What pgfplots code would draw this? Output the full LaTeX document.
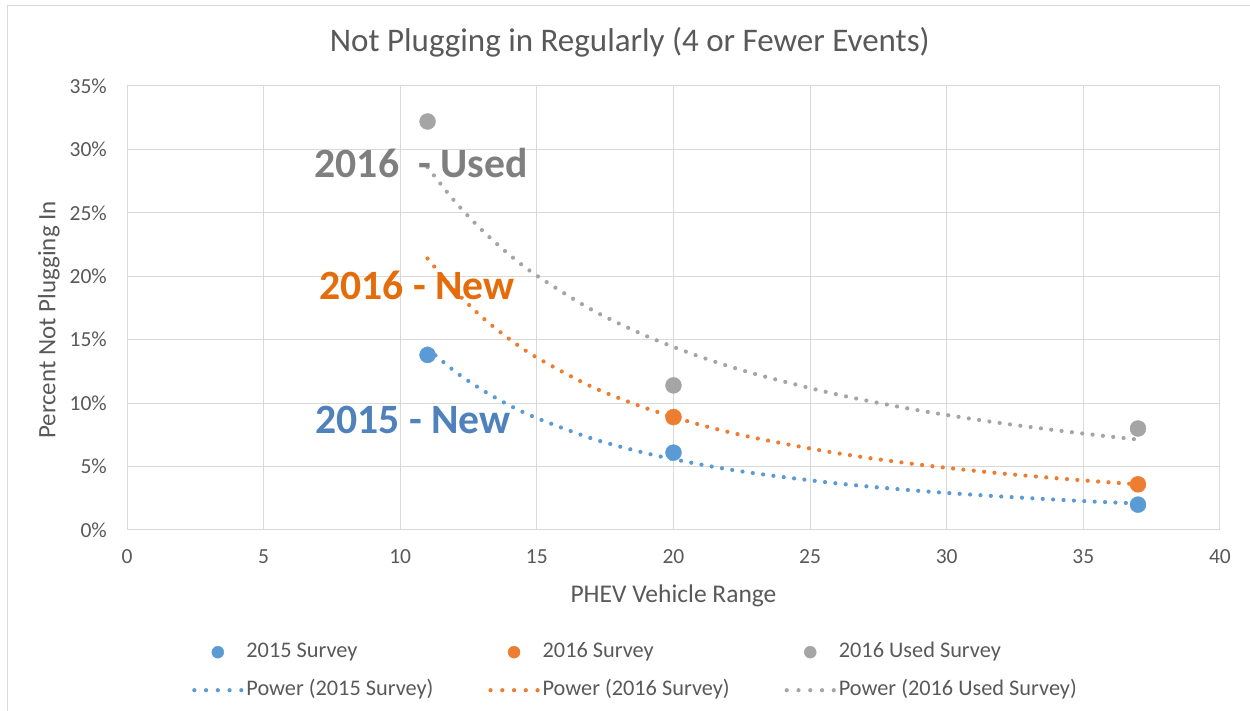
\documentclass[border=0pt]{standalone}
\usepackage{pgfplots}
\pgfplotsset{compat=1.18}
\usepackage{fontspec}
\setmainfont{Carlito}
\definecolor{cblue}{HTML}{5B9BD5}
\definecolor{corange}{HTML}{ED7D31}
\definecolor{cgray}{HTML}{A5A5A5}
\definecolor{txt}{HTML}{595959}
\definecolor{gridc}{HTML}{D9D9D9}
\definecolor{tblue}{HTML}{4F81BD}
\definecolor{torange}{HTML}{E46C0A}
\definecolor{tgray}{HTML}{7F7F7F}
\tikzset{trend/.style={line width=4.2pt, line cap=round, dash pattern=on 0pt off 10.4pt}}
\begin{document}
\begin{tikzpicture}[x=1pt,y=1pt]
\useasboundingbox (0,0) rectangle (1250,711);
\draw[gridc, line width=1.2pt] (7.5,-5) -- (7.5,705.5) -- (1260,705.5);
\begin{axis}[
  at={(127pt,181pt)}, anchor=south west,
  scale only axis, width=1093pt, height=444pt,
  xmin=0, xmax=40, ymin=0, ymax=35,
  xtick={0,5,...,40}, ytick={0,5,...,35},
  grid=major, major grid style={gridc, line width=1pt},
  axis line style={gridc, line width=1pt},
  major tick length=0pt,
  tick label style={font=\fontsize{21.5}{24}\selectfont, color=txt},
  /pgf/number format/assume math mode=true,
  yticklabel={\pgfmathprintnumber{\tick}\%},
  yticklabel style={anchor=east, inner sep=0pt, xshift=-20pt},
  xticklabel style={anchor=center, inner sep=0pt, yshift=-27pt},
  xlabel={PHEV Vehicle Range},
  xlabel style={at={(axis description cs:0.5,-0.1475)}, anchor=center, font=\fontsize{25.5}{28}\selectfont, color=txt},
  ylabel={Percent Not Plugging In},
  ylabel style={at={(axis description cs:-0.0715,0.473)}, anchor=center, font=\fontsize{25}{28}\selectfont, color=txt},
  title={Not Plugging in Regularly (4 or Fewer Events)},
  title style={at={(axis description cs:0.460,1.0845)}, anchor=center, font=\fontsize{33}{36}\selectfont, color=txt},
  legend columns=3,
  legend cell align=left,
  legend style={at={(axis description cs:0.0595,-0.2545)}, anchor=north west, draw=none, fill=none, inner sep=0pt,
    font=\fontsize{22.3}{24}\selectfont, text=txt, row sep=20pt,
    /tikz/every odd column/.append style={column sep=3pt},
    /tikz/every even column/.append style={column sep=55pt},
    nodes={text height=14pt, text depth=4pt, inner sep=0pt}},
  legend image code/.code={\draw[mark repeat=2,mark phase=2,#1] plot coordinates {(0pt,0pt)(23.5pt,0pt)(47pt,0pt)};},
  legend image post style={mark size=6pt},
]
\addplot[forget plot, cblue, trend, smooth] coordinates {(11,14.3)(12,12.50)(13,11.04)(14,9.82)(15,8.82)(17,7.22)(19,6.05)(21,5.16)(23,4.46)(26,3.67)(29,3.08)(32,2.64)(35,2.28)(37,2.09)};
\addplot[forget plot, corange, trend, smooth] coordinates {(11,21.4)(12,18.87)(13,16.77)(14,15.04)(15,13.59)(17,11.30)(19,9.60)(21,8.28)(23,7.25)(26,6.05)(29,5.15)(32,4.46)(35,3.91)(37,3.6)};
\addplot[forget plot, cgray, trend, smooth] coordinates {(11,28.60)(12,25.89)(13,23.62)(14,21.69)(15,20.05)(17,17.37)(19,15.30)(21,13.64)(23,12.29)(26,10.68)(29,9.42)(32,8.42)(35,7.60)(37,7.13)};
\addplot[only marks, mark=*, mark size=8pt, color=cblue] coordinates {(11,13.8)(20,6.1)(37,2.0)};
\addlegendentry{2015 Survey}
\addplot[only marks, mark=*, mark size=8pt, color=corange] coordinates {(20,8.9)(37,3.6)};
\addlegendentry{2016 Survey}
\addplot[only marks, mark=*, mark size=8pt, color=cgray] coordinates {(11,32.2)(20,11.4)(37,8.0)};
\addlegendentry{2016 Used Survey}
\addlegendimage{cblue, trend, dash pattern=on 0pt off 11.75pt}
\addlegendentry{Power (2015 Survey)}
\addlegendimage{corange, trend, dash pattern=on 0pt off 11.75pt}
\addlegendentry{Power (2016 Survey)}
\addlegendimage{cgray, trend, dash pattern=on 0pt off 11.75pt}
\addlegendentry{Power (2016 Used Survey)}
\node[font=\bfseries\fontsize{41.7}{44}\selectfont, color=tgray] at (axis cs:10.76,28.93) {2016\ \ - Used};
\node[font=\bfseries\fontsize{41.7}{44}\selectfont, color=torange] at (axis cs:10.61,19.31) {2016 - New};
\node[font=\bfseries\fontsize{41.7}{44}\selectfont, color=tblue] at (axis cs:10.47,8.67) {2015 - New};
\end{axis}
\end{tikzpicture}
\end{document}
